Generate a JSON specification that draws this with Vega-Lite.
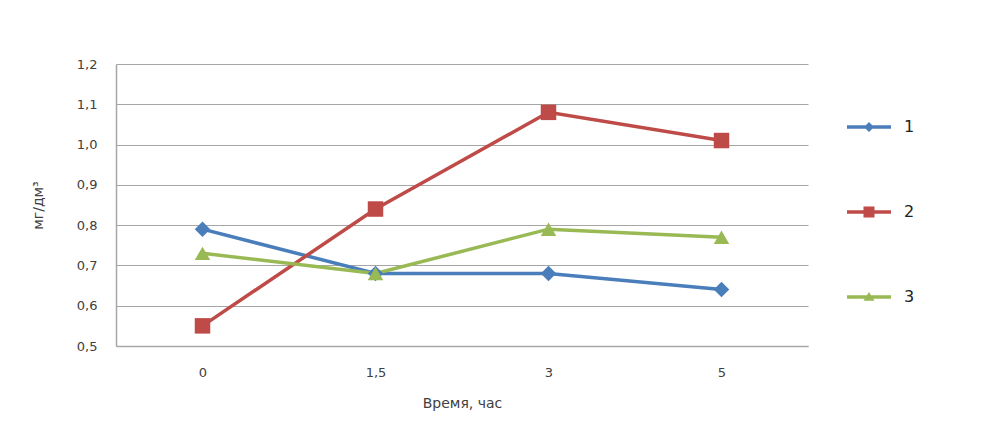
{
  "$schema": "https://vega.github.io/schema/vega-lite/v6.json",
  "width": 692,
  "height": 282,
  "autosize": {"type": "none"},
  "padding": {"left": 116, "top": 64, "right": 193, "bottom": 80},
  "background": "white",
  "config": {
    "font": "DejaVu Sans",
    "view": {"stroke": null},
    "axis": {"labelFont": "DejaVu Sans", "titleFont": "DejaVu Sans", "labelColor": "#404040", "titleColor": "#404040", "titleFontWeight": "normal", "labelFontSize": 13, "titleFontSize": 14}
  },
  "data": {
    "values": [
      {"t": "0", "series": "1", "v": 0.79},
      {"t": "1,5", "series": "1", "v": 0.68},
      {"t": "3", "series": "1", "v": 0.68},
      {"t": "5", "series": "1", "v": 0.64},
      {"t": "0", "series": "2", "v": 0.55},
      {"t": "1,5", "series": "2", "v": 0.84},
      {"t": "3", "series": "2", "v": 1.08},
      {"t": "5", "series": "2", "v": 1.01},
      {"t": "0", "series": "3", "v": 0.73},
      {"t": "1,5", "series": "3", "v": 0.68},
      {"t": "3", "series": "3", "v": 0.79},
      {"t": "5", "series": "3", "v": 0.77}
    ]
  },
  "encoding": {
    "x": {
      "field": "t", "type": "ordinal", "sort": ["0", "1,5", "3", "5"],
      "scale": {"type": "point", "padding": 0.5},
      "axis": {"title": "Время, час", "labelAngle": 0, "ticks": false, "domainColor": "#a6a6a6", "domainWidth": 1.5, "labelPadding": 20, "titlePadding": 17, "grid": false}
    },
    "y": {
      "field": "v", "type": "quantitative",
      "scale": {"domain": [0.5, 1.2], "nice": false, "zero": false},
      "axis": {"title": "мг/дм³", "values": [0.5, 0.6, 0.7, 0.8, 0.9, 1.0, 1.1, 1.2], "labelExpr": "replace(format(datum.value, '.1f'), '.', ',')", "ticks": false, "domainColor": "#a6a6a6", "domainWidth": 1.5, "gridColor": "#a6a6a6", "gridWidth": 1, "labelPadding": 19, "titlePadding": 31}
    }
  },
  "layer": [
    {
      "mark": {"type": "line", "strokeWidth": 3.5},
      "encoding": {
        "color": {"field": "series", "type": "nominal", "legend": null,
          "scale": {"domain": ["1", "2", "3"], "range": ["#4a7ebb", "#be4b48", "#98b954"]}}
      }
    },
    {
      "mark": {"type": "point", "filled": true, "opacity": 1, "size": 240},
      "encoding": {
        "color": {"field": "series", "type": "nominal", "legend": null},
        "shape": {"field": "series", "type": "nominal", "legend": null,
          "scale": {"domain": ["1", "2", "3"], "range": ["diamond", "square", "triangle-up"]}}
      }
    },
    {
      "mark": {"type": "point", "filled": true, "opacity": 1, "size": 0},
      "encoding": {
        "color": {"field": "series", "type": "nominal",
          "legend": {
            "title": null, "orient": "none", "legendX": 745, "legendY": 55,
            "symbolSize": 100, "symbolStrokeWidth": 0, "symbolOpacity": 1,
            "labelFont": "DejaVu Sans", "labelFontSize": 16, "labelColor": "#222222",
            "labelOffset": 27, "rowPadding": 69, "padding": 0
          }
        },
        "shape": {"field": "series", "type": "nominal",
          "scale": {"domain": ["1", "2", "3"], "range": [
            "M-4.4,-0.35H4.4V0.35H-4.4Z M0,-1L1,0L0,1L-1,0Z",
            "M-4.4,-0.35H4.4V0.35H-4.4Z M-1.1,-1.1H1.1V1.1H-1.1Z",
            "M-4.4,-0.35H4.4V0.35H-4.4Z M0,-1L1.1,0.75H-1.1Z"
          ]},
          "legend": {
            "title": null, "orient": "none", "legendX": 745, "legendY": 55,
            "symbolSize": 100, "symbolStrokeWidth": 0, "symbolOpacity": 1,
            "labelFont": "DejaVu Sans", "labelFontSize": 16, "labelColor": "#222222",
            "labelOffset": 27, "rowPadding": 69, "padding": 0
          }
        }
      }
    }
  ],
  "resolve": {"scale": {"shape": "independent"}, "legend": {"shape": "independent", "color": "independent"}}
}
